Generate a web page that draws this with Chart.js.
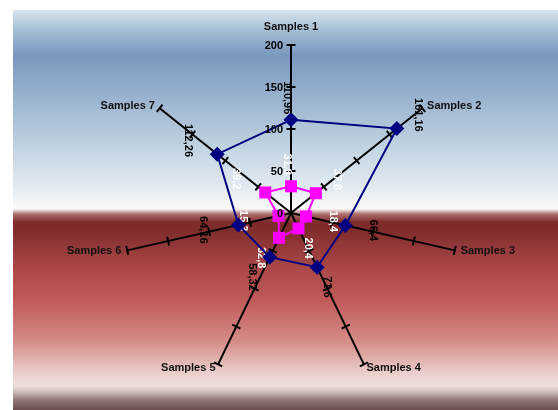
<!DOCTYPE html>
<html>
<head>
<meta charset="utf-8">
<script src="https://cdn.jsdelivr.net/npm/chart.js@4/dist/chart.umd.min.js"></script>
<style>
  html, body { margin: 0; padding: 0; background: #ffffff; }
  #wrap { width: 558px; height: 410px; position: relative; }
  canvas { display: block; }
</style>
</head>
<body>
<div id="wrap"><canvas id="radar" width="558" height="410"></canvas></div>
<script>
// Axis categories
const categories = ['Samples 1', 'Samples 2', 'Samples 3', 'Samples 4', 'Samples 5', 'Samples 6', 'Samples 7'];
// Series values
const seriesA = [110.96, 161.16, 66.4, 71.6, 58.32, 64.16, 112.26];
const seriesB = [31.8, 37.8, 18.4, 20.4, 32.8, 15.3, 39.2];
// Radial scale ticks
const tickValues = [0, 50, 100, 150, 200];
const scaleMin = 0;
const scaleMax = 200;

const LABEL_FONT = "bold 11px 'Liberation Sans', Arial, sans-serif";
const VALUE_FONT = "bold 11px 'Liberation Sans', Arial, sans-serif";

function fmt(v) { return String(v).replace('.', ','); }

// unit direction of axis i (pointing outward from the centre)
function axisDir(scale, i) {
  const p = scale.getPointPositionForValue(i, scaleMax);
  const dx = p.x - scale.xCenter, dy = p.y - scale.yCenter;
  const len = Math.hypot(dx, dy) || 1;
  return { x: dx / len, y: dy / len };
}

// Banded gradient behind the plot
const backdropPlugin = {
  id: 'backdrop',
  beforeDraw(chart) {
    const ctx = chart.ctx;
    const x0 = 13, y0 = 10, x1 = chart.width, y1 = chart.height;
    const h = y1 - y0;
    const g = ctx.createLinearGradient(0, y0, 0, y1);
    const stops = [
      [10, '#d9e4ee'], [30, '#a6bed5'], [55, '#7a98be'], [100, '#9bb4cf'],
      [150, '#c4d5e3'], [190, '#e5ecf2'], [205, '#f6f7f8'], [209, '#fbf9f9'],
      [214, '#b07070'], [222, '#7e2a2a'], [232, '#822d2d'], [265, '#a84646'],
      [300, '#c05a5a'], [340, '#d48a86'], [372, '#e9cdc9'], [386, '#eedfdb'],
      [392, '#cbbdb9'], [400, '#8f7676'], [410, '#6a4e4e']
    ];
    stops.forEach(([y, c]) => g.addColorStop(Math.min(1, Math.max(0, (y - y0) / h)), c));
    ctx.save();
    ctx.fillStyle = g;
    ctx.fillRect(x0, y0, x1 - x0, h);
    ctx.restore();
  }
};

// Cross ticks on every axis, axis titles and the radial tick labels
const axisDecorPlugin = {
  id: 'axisDecor',
  beforeDatasetsDraw(chart) {
    const scale = chart.scales.r;
    const ctx = chart.ctx;
    ctx.save();
    ctx.strokeStyle = '#000000';
    ctx.lineWidth = 2;
    for (let i = 0; i < categories.length; i++) {
      const d = axisDir(scale, i);
      const nx = -d.y, ny = d.x;
      tickValues.forEach(v => {
        if (v === scaleMin) return;
        const p = scale.getPointPositionForValue(i, v);
        ctx.beginPath();
        ctx.moveTo(p.x - nx * 4.5, p.y - ny * 4.5);
        ctx.lineTo(p.x + nx * 4.5, p.y + ny * 4.5);
        ctx.stroke();
      });
    }
    // axis titles
    ctx.fillStyle = '#111111';
    ctx.font = LABEL_FONT;
    categories.forEach((name, i) => {
      const d = axisDir(scale, i);
      const end = scale.getPointPositionForValue(i, scaleMax);
      if (Math.abs(d.x) < 0.1) {
        ctx.textAlign = 'center';
        ctx.textBaseline = 'middle';
        ctx.fillText(name, end.x, end.y + (d.y < 0 ? -18 : 18));
      } else {
        ctx.textAlign = d.x > 0 ? 'left' : 'right';
        ctx.textBaseline = 'middle';
        ctx.fillText(name, end.x + d.x * 6, end.y + d.y * 4);
      }
    });
    ctx.restore();
  },
  afterDatasetsDraw(chart) {
    const scale = chart.scales.r;
    const ctx = chart.ctx;
    ctx.save();
    ctx.fillStyle = '#000000';
    ctx.font = LABEL_FONT;
    ctx.textAlign = 'right';
    ctx.textBaseline = 'middle';
    tickValues.forEach(v => {
      const p = scale.getPointPositionForValue(0, v);
      ctx.fillText(String(v), p.x - 8, p.y + 1);
    });
    ctx.restore();
  }
};

// Vertical value labels next to each point
const valueLabelPlugin = {
  id: 'valueLabels',
  afterDatasetDraw(chart, args) {
    const scale = chart.scales.r;
    const ctx = chart.ctx;
    const ds = chart.data.datasets[args.index];
    const meta = args.meta;
    ctx.save();
    ctx.font = VALUE_FONT;
    ctx.fillStyle = ds.valueColor;
    ctx.textAlign = 'center';
    ctx.textBaseline = 'middle';
    meta.data.forEach((pt, i) => {
      const d = axisDir(scale, i);
      const x = pt.x + d.x * 32 - 4;
      const y = pt.y + d.y * 22;
      ctx.save();
      ctx.translate(x, y);
      ctx.rotate(Math.PI / 2);
      ctx.fillText(fmt(ds.data[i]), 0, 0);
      ctx.restore();
    });
    ctx.restore();
  }
};

new Chart(document.getElementById('radar'), {
  type: 'radar',
  data: {
    labels: categories,
    datasets: [
      {
        label: 'Series 1',
        data: seriesA,
        borderColor: '#000080',
        backgroundColor: '#000080',
        borderWidth: 2,
        fill: false,
        pointStyle: 'rectRot',
        pointRadius: 7.5,
        pointBackgroundColor: '#000080',
        pointBorderColor: '#000080',
        pointBorderWidth: 0,
        valueColor: '#000000'
      },
      {
        label: 'Series 2',
        data: seriesB,
        borderColor: '#ff00ff',
        backgroundColor: '#ff00ff',
        borderWidth: 2,
        fill: false,
        pointStyle: 'rect',
        pointRadius: 8.5,
        pointBackgroundColor: '#ff00ff',
        pointBorderColor: '#ff00ff',
        pointBorderWidth: 0,
        valueColor: '#ffffff'
      }
    ]
  },
  options: {
    responsive: false,
    animation: false,
    events: [],
    layout: { padding: { left: 123, right: 99, top: 45, bottom: 29 } },
    plugins: { legend: { display: false }, title: { display: false }, tooltip: { enabled: false } },
    elements: { line: { tension: 0 } },
    scales: {
      r: {
        min: scaleMin,
        max: scaleMax,
        ticks: { display: false, stepSize: 50 },
        grid: { display: false },
        angleLines: { display: true, color: '#000000', lineWidth: 2 },
        pointLabels: { display: false }
      }
    }
  },
  plugins: [backdropPlugin, axisDecorPlugin, valueLabelPlugin]
});
</script>
</body>
</html>
